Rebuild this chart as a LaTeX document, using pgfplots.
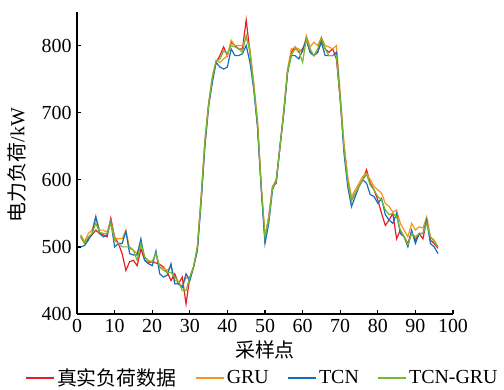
\documentclass[border=0pt]{standalone}
\usepackage{fontspec}
\setmainfont{Liberation Serif}
\newfontfamily\cjk{Noto Sans CJK SC}
\usepackage{pgfplots}
\pgfplotsset{compat=1.18}
\definecolor{cReal}{RGB}{232,30,38}
\definecolor{cGRU}{RGB}{245,150,30}
\definecolor{cTCN}{RGB}{20,110,190}
\definecolor{cTG}{RGB}{115,185,50}
\begin{document}
\begin{tikzpicture}
\useasboundingbox (-77bp,-76bp) rectangle (427bp,314bp);
\begin{axis}[
  scale only axis,
  width=376bp, height=302bp,
  xmin=0, xmax=100, ymin=400, ymax=850,
  xtick={0,10,...,100}, ytick={400,500,600,700,800},
  axis lines=left,
  axis line style={-, line width=1.6bp, black},
  tick align=inside,
  major tick length=4bp,
  tick style={line width=1.3bp, black},
  /pgf/number format/assume math mode=true,
  ticklabel style={font=\fontsize{20}{24}\selectfont},
  xticklabel style={yshift=-2bp},
  yticklabel style={xshift=-2bp},
  xlabel={\cjk 采样点},
  ylabel={\cjk 电力负荷\rmfamily/kW},
  label style={font=\fontsize{20}{24}\selectfont},
  xlabel style={at={(axis description cs:0.5,-0.119)}, anchor=center},
  ylabel style={at={(axis description cs:-0.16,0.493)}, anchor=center},
  legend columns=4,
  legend style={draw=none, fill=none, at={(0.494,-0.212)}, anchor=center,
    font=\fontsize{20}{24}\selectfont,
    /tikz/every even column/.append style={column sep=17bp}},
  legend image code/.code={\draw[#1] (0bp,0bp) -- (28bp,0bp);},
  every axis plot/.append style={line width=1.2bp},
]
\addplot[cReal] coordinates {
(1,515)(2,505)(3,512)(4,518)(5,525)(6,520)(7,518)(8,515)(9,543)(10,515)
(11,505)(12,490)(13,465)(14,478)(15,480)(16,472)(17,497)(18,480)(19,476)(20,478)
(21,476)(22,474)(23,470)(24,462)(25,450)(26,460)(27,445)(28,455)(29,415)(30,455)
(31,470)(32,495)(33,570)(34,650)(35,710)(36,750)(37,775)(38,785)(39,798)(40,785)
(41,805)(42,800)(43,795)(44,795)(45,838)(46,790)(47,740)(48,680)(49,590)(50,512)
(51,545)(52,590)(53,595)(54,650)(55,700)(56,760)(57,790)(58,798)(59,790)(60,795)
(61,808)(62,790)(63,785)(64,790)(65,810)(66,795)(67,790)(68,795)(69,780)(70,720)
(71,650)(72,600)(73,570)(74,580)(75,590)(76,600)(77,615)(78,595)(79,585)(80,570)
(81,550)(82,532)(83,540)(84,550)(85,512)(86,525)(87,515)(88,505)(89,522)(90,510)
(91,520)(92,512)(93,540)(94,510)(95,505)(96,498)};
\addlegendentry{\cjk 真实负荷数据}
\addplot[cGRU] coordinates {
(1,518)(2,508)(3,520)(4,525)(5,545)(6,525)(7,525)(8,522)(9,540)(10,512)
(11,512)(12,512)(13,525)(14,498)(15,495)(16,490)(17,508)(18,485)(19,480)(20,478)
(21,490)(22,470)(23,468)(24,465)(25,470)(26,450)(27,448)(28,440)(29,455)(30,450)
(31,470)(32,500)(33,575)(34,660)(35,715)(36,755)(37,778)(38,775)(39,780)(40,785)
(41,808)(42,800)(43,800)(44,800)(45,812)(46,795)(47,745)(48,690)(49,590)(50,515)
(51,545)(52,590)(53,600)(54,650)(55,705)(56,765)(57,795)(58,797)(59,795)(60,790)
(61,815)(62,798)(63,805)(64,800)(65,812)(66,800)(67,798)(68,795)(69,800)(70,730)
(71,655)(72,605)(73,575)(74,585)(75,595)(76,605)(77,610)(78,600)(79,590)(80,585)
(81,580)(82,565)(83,560)(84,552)(85,555)(86,535)(87,525)(88,515)(89,535)(90,525)
(91,530)(92,528)(93,545)(94,515)(95,510)(96,500)};
\addlegendentry{GRU}
\addplot[cTCN] coordinates {
(1,500)(2,502)(3,510)(4,520)(5,545)(6,520)(7,515)(8,518)(9,538)(10,500)
(11,505)(12,505)(13,523)(14,490)(15,488)(16,488)(17,512)(18,480)(19,475)(20,472)
(21,494)(22,460)(23,455)(24,458)(25,475)(26,445)(27,445)(28,440)(29,460)(30,450)
(31,470)(32,495)(33,565)(34,650)(35,710)(36,745)(37,775)(38,768)(39,765)(40,768)
(41,795)(42,785)(43,785)(44,788)(45,800)(46,775)(47,735)(48,680)(49,585)(50,505)
(51,535)(52,585)(53,600)(54,650)(55,700)(56,760)(57,785)(58,785)(59,780)(60,793)
(61,810)(62,790)(63,785)(64,790)(65,805)(66,785)(67,785)(68,785)(69,790)(70,720)
(71,640)(72,590)(73,560)(74,575)(75,590)(76,600)(77,595)(78,578)(79,575)(80,565)
(81,572)(82,548)(83,540)(84,535)(85,550)(86,520)(87,515)(88,500)(89,525)(90,505)
(91,520)(92,520)(93,540)(94,505)(95,500)(96,490)};
\addlegendentry{TCN}
\addplot[cTG] coordinates {
(1,517)(2,505)(3,515)(4,520)(5,535)(6,522)(7,520)(8,520)(9,535)(10,510)
(11,505)(12,500)(13,500)(14,500)(15,495)(16,480)(17,505)(18,485)(19,478)(20,478)
(21,490)(22,470)(23,465)(24,462)(25,462)(26,455)(27,448)(28,435)(29,435)(30,455)
(31,470)(32,500)(33,570)(34,655)(35,712)(36,752)(37,777)(38,780)(39,792)(40,788)
(41,800)(42,798)(43,795)(44,790)(45,815)(46,790)(47,740)(48,685)(49,590)(50,515)
(51,540)(52,588)(53,598)(54,650)(55,702)(56,762)(57,785)(58,795)(59,792)(60,775)
(61,810)(62,795)(63,785)(64,795)(65,812)(66,795)(67,785)(68,785)(69,785)(70,720)
(71,648)(72,598)(73,568)(74,580)(75,590)(76,600)(77,608)(78,592)(79,585)(80,575)
(81,570)(82,555)(83,548)(84,550)(85,545)(86,525)(87,515)(88,503)(89,520)(90,515)
(91,520)(92,520)(93,535)(94,515)(95,508)(96,500)};
\addlegendentry{TCN-GRU}
\end{axis}
\end{tikzpicture}
\end{document}
